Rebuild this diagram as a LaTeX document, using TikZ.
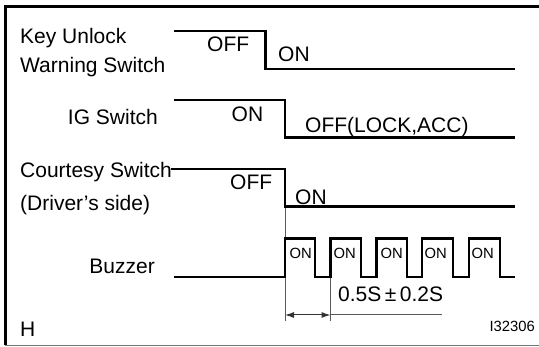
\documentclass[tikz,border=0pt]{standalone}
\usepackage{fontspec}
\setmainfont{Liberation Sans}
\usetikzlibrary{arrows.meta}
\begin{document}
\begin{tikzpicture}[x=1pt,y=-1pt,
  sig/.style={line width=2.9pt, line cap=butt, line join=miter},
  guide/.style={line width=1pt, draw=black!65},
  lbl/.style={inner sep=0pt, anchor=base west, font=\fontsize{21}{24}\selectfont},
  lblr/.style={lbl, anchor=base east},
  small/.style={inner sep=0pt, anchor=base west, font=\fontsize{14.8}{17}\selectfont},
]
\useasboundingbox (0,0) rectangle (539,347);
% frame
\draw[line width=3pt] (5,345.5) -- (5,6.5) -- (539,6.5);
\draw[line width=1.2pt, draw=black!55] (5,345.7) -- (539,345.7);

% left labels
\node[lbl] (lk1) at (20,44) {Key Unlock};
\node[lbl] (lk2) at (20,73) {Warning Switch};
\node[lblr] (lig) at (158,125) {IG Switch};
\node[lbl] (lc1) at (20,178) {Courtesy Switch};
\node[lbl] (lc2) at (20,211) {(Driver’s side)};
\node[lblr] (lbz) at (155,274) {Buzzer};
\node[lbl] (lh) at (20,336.5) {H};
\node[small, anchor=base east] (lid) at (535,332) {I32306};

% guide lines
\coordinate (g1t) at (285,207);
\coordinate (g1b) at (285,321);
\coordinate (g2t) at (330.5,277);
\coordinate (g2b) at (330.5,321);
\draw[guide] (g1t) -- (g1b);
\draw[guide] (g2t) -- (g2b);
\coordinate (a1) at (285,315);
\coordinate (a2) at (330.5,315);
\coordinate (a3) at (442,315);
\draw[guide, draw=black!80, {Latex[length=9pt,width=6pt]}-{Latex[length=9pt,width=6pt]}] (a1) -- (a2);
\draw[guide] (a2) -- (a3);

% signals
\draw[sig] (174,31) -- (265.3,31) -- (265.3,69) -- (515,69);
\draw[sig] (174,100) -- (285,100) -- (285,137.3) -- (515,137.3);
\draw[sig] (171,169) -- (285,169) -- (285,206.7) -- (515,206.7);
\draw[sig] (174,277) -- (285,277) -- (285,238.3) -- (315,238.3) -- (315,277)
  -- (330.5,277) -- (330.5,238.3) -- (361,238.3) -- (361,277)
  -- (376.5,277) -- (376.5,238.3) -- (407,238.3) -- (407,277)
  -- (422,277) -- (422,238.3) -- (453,238.3) -- (453,277)
  -- (469,277) -- (469,238.3) -- (500,238.3) -- (500,277) -- (515,277);

% signal texts
\node[lbl] (t1) at (207,51.7) {OFF};
\node[lbl] (t2) at (278,61.7) {ON};
\node[lbl] (t3) at (231.5,122) {ON};
\node[lbl] (t4) at (305,133) {OFF(LOCK,ACC)};
\node[lbl] (t5) at (230,189.5) {OFF};
\node[lbl] (t6) at (295,205) {ON};
\node[small] (p1) at (289.5,258.3) {ON};
\node[small] (p2) at (333.5,258.3) {ON};
\node[small] (p3) at (380.5,258.3) {ON};
\node[small] (p4) at (424.5,258.3) {ON};
\node[small] (p5) at (471.5,258.3) {ON};
\node[lbl] (dim) at (338,301.7) {0.5S\,±\,0.2S};
\end{tikzpicture}
\end{document}
